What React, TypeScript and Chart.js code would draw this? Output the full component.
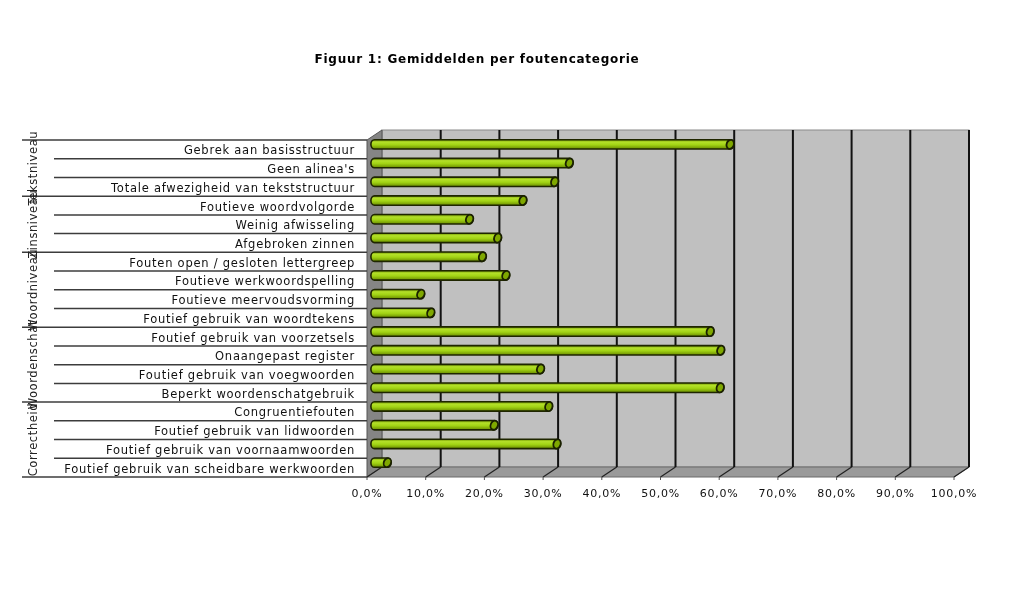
import React, { useEffect, useRef } from "react";
import { Chart, registerables } from "chart.js";

Chart.register(...registerables);

const titleText = "Figuur 1: Gemiddelden per foutencategorie";

const categories = [
  "Gebrek aan basisstructuur",
  "Geen alinea's",
  "Totale afwezigheid van tekststructuur",
  "Foutieve woordvolgorde",
  "Weinig afwisseling",
  "Afgebroken zinnen",
  "Fouten open / gesloten lettergreep",
  "Foutieve werkwoordspelling",
  "Foutieve meervoudsvorming",
  "Foutief gebruik van woordtekens",
  "Foutief gebruik van voorzetsels",
  "Onaangepast register",
  "Foutief gebruik van voegwoorden",
  "Beperkt woordenschatgebruik",
  "Congruentiefouten",
  "Foutief gebruik van lidwoorden",
  "Foutief gebruik van voornaamwoorden",
  "Foutief gebruik van scheidbare werkwoorden",
];

const values = [
  60.6, 33.2, 30.7, 25.3, 16.2, 21.0, 18.4, 22.4, 7.9, 9.6, 57.2, 59.0, 28.3,
  58.9, 29.7, 20.4, 31.1, 2.2,
];

const groupNames = ["Tekstniveau", "Zinsniveau", "Woordniveau", "Woordenschat", "Correctheid"];
const groupSizes = [3, 3, 4, 4, 4];

const xMin = 0;
const xMax = 100;
const xStep = 10;

const DX = 15;
const DY = -10;
const FONT = "'DejaVu Sans', Verdana, sans-serif";

function setSpacing(chart: any) {
  try {
    (chart.ctx as any).letterSpacing = "0.75px";
  } catch (e) {}
}

const spacingPlugin = {
  id: "spacing",
  beforeUpdate: setSpacing,
  beforeLayout: setSpacing,
  beforeDraw: setSpacing,
};

const wallsPlugin = {
  id: "walls3d",
  beforeDatasetsDraw(chart: any) {
    const { ctx, chartArea: a, scales } = chart;
    const xs = scales.x;
    const ys = scales.y;
    ctx.save();
    (ctx as any).letterSpacing = "0px";
    // back wall
    ctx.fillStyle = "#c0c0c0";
    ctx.fillRect(a.left + DX, a.top + DY, a.right - a.left, a.bottom - a.top);
    ctx.strokeStyle = "#8a8a8a";
    ctx.lineWidth = 1;
    ctx.strokeRect(a.left + DX, a.top + DY, a.right - a.left, a.bottom - a.top);
    // left wall
    ctx.beginPath();
    ctx.moveTo(a.left, a.top);
    ctx.lineTo(a.left + DX, a.top + DY);
    ctx.lineTo(a.left + DX, a.bottom + DY);
    ctx.lineTo(a.left, a.bottom);
    ctx.closePath();
    ctx.fillStyle = "#858585";
    ctx.fill();
    ctx.strokeStyle = "#555555";
    ctx.stroke();
    // floor
    ctx.beginPath();
    ctx.moveTo(a.left, a.bottom);
    ctx.lineTo(a.left + DX, a.bottom + DY);
    ctx.lineTo(a.right + DX, a.bottom + DY);
    ctx.lineTo(a.right, a.bottom);
    ctx.closePath();
    ctx.fillStyle = "#9a9a9a";
    ctx.fill();
    ctx.strokeStyle = "#6a6a6a";
    ctx.stroke();
    // gridlines
    xs.ticks.forEach((t: any) => {
      const px = xs.getPixelForValue(t.value);
      ctx.strokeStyle = "#111111";
      ctx.lineWidth = 2;
      if (t.value > xMin) {
        ctx.beginPath();
        ctx.moveTo(px + DX, a.top + DY);
        ctx.lineTo(px + DX, a.bottom + DY);
        ctx.stroke();
      }
      ctx.lineWidth = 1.2;
      ctx.strokeStyle = "#222222";
      ctx.beginPath();
      ctx.moveTo(px, a.bottom);
      ctx.lineTo(px + DX, a.bottom + DY);
      ctx.stroke();
      ctx.lineWidth = 1;
      ctx.strokeStyle = "#555555";
      ctx.beginPath();
      ctx.moveTo(px, a.bottom);
      ctx.lineTo(px, a.bottom + 3);
      ctx.stroke();
    });
    // category separator lines
    const rowH = ys.getPixelForValue(1) - ys.getPixelForValue(0);
    const bounds = new Set<number>();
    let acc = 0;
    bounds.add(0);
    groupSizes.forEach((s) => {
      acc += s;
      bounds.add(acc);
    });
    for (let i = 0; i <= categories.length; i++) {
      const y = ys.getPixelForValue(0) - rowH / 2 + i * rowH;
      const isGroup = bounds.has(i);
      ctx.beginPath();
      ctx.moveTo(isGroup ? 22 : 54, y);
      ctx.lineTo(a.left, y);
      ctx.strokeStyle = "#3c3c3c";
      ctx.lineWidth = 1.5;
      ctx.stroke();
    }
    ctx.restore();
  },
  afterDatasetsDraw(chart: any) {
    const { ctx } = chart;
    const meta = chart.getDatasetMeta(0);
    ctx.save();
    meta.data.forEach((el: any) => {
      const p = el.getProps(["x", "y", "base", "height"], true);
      const x0 = p.base + DX / 2;
      const x1 = p.x + DX / 2;
      const yc = p.y + DY / 2;
      const r = p.height / 2;
      const rx = 3.6;
      const g = ctx.createLinearGradient(0, yc - r, 0, yc + r);
      g.addColorStop(0, "#6f9400");
      g.addColorStop(0.25, "#b4e02a");
      g.addColorStop(0.55, "#a2d414");
      g.addColorStop(1, "#6a8c00");
      ctx.beginPath();
      ctx.moveTo(x0, yc - r);
      ctx.lineTo(x1, yc - r);
      ctx.ellipse(x1, yc, rx, r, 0, -Math.PI / 2, Math.PI / 2);
      ctx.lineTo(x0, yc + r);
      ctx.ellipse(x0, yc, rx, r, 0, Math.PI / 2, (3 * Math.PI) / 2);
      ctx.closePath();
      ctx.fillStyle = g;
      ctx.fill();
      ctx.strokeStyle = "#1f2600";
      ctx.lineWidth = 1.6;
      ctx.stroke();
      // end cap
      ctx.beginPath();
      ctx.ellipse(x1, yc, rx, r, 0.35, 0, Math.PI * 2);
      ctx.fillStyle = "#7fa800";
      ctx.fill();
      ctx.strokeStyle = "#1a2000";
      ctx.lineWidth = 1.8;
      ctx.stroke();
    });
    ctx.restore();
  },
  afterDraw(chart: any) {
    const { ctx, scales } = chart;
    const ys = scales.y;
    const rowH = ys.getPixelForValue(1) - ys.getPixelForValue(0);
    ctx.save();
    (ctx as any).letterSpacing = "0.6px";
    ctx.font = `11.5px ${FONT}`;
    ctx.fillStyle = "#222222";
    ctx.textAlign = "center";
    ctx.textBaseline = "middle";
    let start = 0;
    groupNames.forEach((name, gi) => {
      const top = ys.getPixelForValue(start) - rowH / 2;
      const bottom = ys.getPixelForValue(start + groupSizes[gi] - 1) + rowH / 2;
      const cy = (top + bottom) / 2;
      ctx.save();
      ctx.translate(34, cy);
      ctx.rotate(-Math.PI / 2);
      ctx.fillText(name, 0, 0);
      ctx.restore();
      start += groupSizes[gi];
    });
    ctx.restore();
  },
};

export default function App() {
  const ref = useRef<HTMLCanvasElement | null>(null);
  useEffect(() => {
    if (!ref.current) return;
    const chart = new Chart(ref.current, {
      type: "bar",
      data: {
        labels: categories,
        datasets: [
          {
            data: values,
            backgroundColor: "rgba(0,0,0,0)",
            borderWidth: 0,
            categoryPercentage: 1,
            barPercentage: 0.5,
          },
        ],
      },
      options: {
        indexAxis: "y",
        animation: false,
        responsive: false,
        layout: { padding: { left: 0, right: 70, top: 0, bottom: 0 } },
        plugins: {
          legend: { display: false },
          tooltip: { enabled: false },
          title: {
            display: true,
            text: titleText,
            color: "#000000",
            font: { family: FONT, size: 12, weight: "bold" },
            padding: { top: 53, bottom: 72.6 },
          },
        },
        scales: {
          x: {
            type: "linear",
            min: xMin,
            max: xMax,
            ticks: {
              stepSize: xStep,
              color: "#111111",
              font: { family: FONT, size: 11 },
              padding: 11,
              maxRotation: 0,
              callback: (v: any) => Number(v).toFixed(1).replace(".", ",") + "%",
            },
            grid: { display: false, drawTicks: false },
            border: { display: false },
            afterFit: (s: any) => {
              s.height = 112;
            },
          },
          y: {
            type: "category",
            ticks: {
              color: "#111111",
              font: { family: FONT, size: 11.5 },
              padding: 12,
              labelOffset: 2,
              autoSkip: false,
            },
            grid: { display: false, drawTicks: false },
            border: { display: false },
            afterFit: (s: any) => {
              s.width = 367;
            },
          },
        },
      },
      plugins: [spacingPlugin, wallsPlugin],
    } as any);
    return () => chart.destroy();
  }, []);
  return (
    <div
      style={{
        position: "fixed",
        left: 0,
        top: 0,
        width: 1024,
        height: 589,
        background: "#ffffff",
      }}
    >
      <canvas ref={ref} width={1024} height={589} style={{ display: "block" }} />
    </div>
  );
}
